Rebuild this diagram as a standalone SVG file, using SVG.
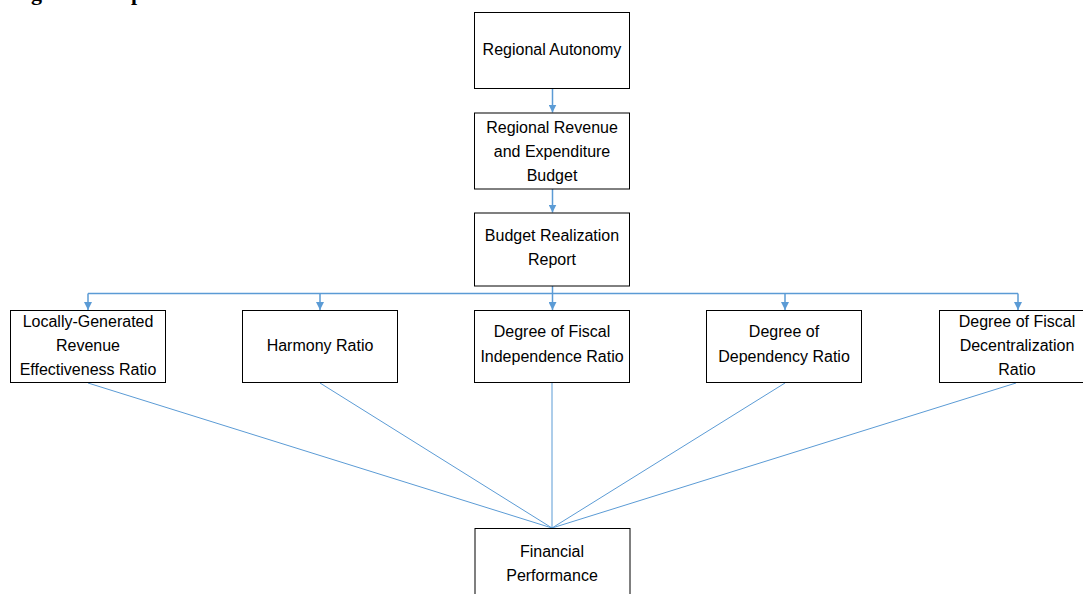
<svg xmlns="http://www.w3.org/2000/svg" width="1083" height="594" viewBox="0 0 1083 594">
<style>
.box{fill:#fff;stroke:#000;stroke-width:1}
.t{font-family:"Liberation Sans",Arial,sans-serif;font-size:16px;fill:#000;text-anchor:middle}
.h{font-family:"Liberation Serif","Times New Roman",serif;font-size:22px;font-weight:bold;fill:#000}
.c{stroke:#5B9BD5;stroke-width:1.5;fill:none}
.d{stroke:#5B9BD5;stroke-width:1;fill:none}
</style>
<defs>
<marker id="ah" viewBox="0 0 10 10" refX="10" refY="5" markerWidth="8" markerHeight="8" markerUnits="userSpaceOnUse" orient="auto">
<path d="M0,0 L10,5 L0,10 z" fill="#5B9BD5"/>
</marker>
</defs>
<rect width="1083" height="594" fill="#fff"/>
<g id="heading">
<text class="h" x="31" y="0">g</text>
<text class="h" x="131" y="0">p</text>
</g>
<g id="connectors">
<line class="c" x1="552.5" y1="88" x2="552.5" y2="112.5" marker-end="url(#ah)"/>
<line class="c" x1="552.5" y1="189" x2="552.5" y2="212.5" marker-end="url(#ah)"/>
<line class="c" x1="552.5" y1="286" x2="552.5" y2="293.5"/>
<line class="c" x1="88" y1="293.5" x2="1018" y2="293.5"/>
<line class="c" x1="88" y1="293.5" x2="88" y2="310" marker-end="url(#ah)"/>
<line class="c" x1="320" y1="293.5" x2="320" y2="310" marker-end="url(#ah)"/>
<line class="c" x1="552.5" y1="293.5" x2="552.5" y2="310" marker-end="url(#ah)"/>
<line class="c" x1="785" y1="293.5" x2="785" y2="310" marker-end="url(#ah)"/>
<line class="c" x1="1018" y1="293.5" x2="1018" y2="310" marker-end="url(#ah)"/>
<line class="d" x1="88" y1="383" x2="552" y2="528"/>
<line class="d" x1="320" y1="383" x2="552" y2="528"/>
<line class="d" x1="552" y1="383" x2="552" y2="528"/>
<line class="d" x1="785" y1="383" x2="552" y2="528"/>
<line class="d" x1="1016" y1="383" x2="552" y2="528"/>
</g>
<g id="regional-autonomy">
<rect class="box" x="474.5" y="12.5" width="155" height="76"/>
<text class="t" x="552" y="55">Regional Autonomy</text>
</g>
<g id="budget">
<rect class="box" x="474.5" y="113" width="155" height="76"/>
<text class="t" x="552" y="133">Regional Revenue</text>
<text class="t" x="552" y="157">and Expenditure</text>
<text class="t" x="552" y="181">Budget</text>
</g>
<g id="realization-report">
<rect class="box" x="474.5" y="213" width="155" height="73"/>
<text class="t" x="552" y="241">Budget Realization</text>
<text class="t" x="552" y="265">Report</text>
</g>
<g id="locally-generated">
<rect class="box" x="10.5" y="310.5" width="155" height="72"/>
<text class="t" x="88" y="327">Locally-Generated</text>
<text class="t" x="88" y="351">Revenue</text>
<text class="t" x="88" y="375">Effectiveness Ratio</text>
</g>
<g id="harmony">
<rect class="box" x="242.5" y="310.5" width="155" height="72"/>
<text class="t" x="320" y="351">Harmony Ratio</text>
</g>
<g id="fiscal-independence">
<rect class="box" x="474.5" y="310.5" width="155" height="72"/>
<text class="t" x="552" y="337">Degree of Fiscal</text>
<text class="t" x="552" y="362">Independence Ratio</text>
</g>
<g id="dependency">
<rect class="box" x="706.5" y="310.5" width="155" height="72"/>
<text class="t" x="784" y="337">Degree of</text>
<text class="t" x="784" y="362">Dependency Ratio</text>
</g>
<g id="fiscal-decentralization">
<rect class="box" x="939.5" y="310.5" width="155" height="72"/>
<text class="t" x="1017" y="327">Degree of Fiscal</text>
<text class="t" x="1017" y="351">Decentralization</text>
<text class="t" x="1017" y="375">Ratio</text>
</g>
<g id="financial-performance">
<rect class="box" x="475" y="528.5" width="155" height="76"/>
<text class="t" x="552" y="557">Financial</text>
<text class="t" x="552" y="581">Performance</text>
</g>
</svg>
